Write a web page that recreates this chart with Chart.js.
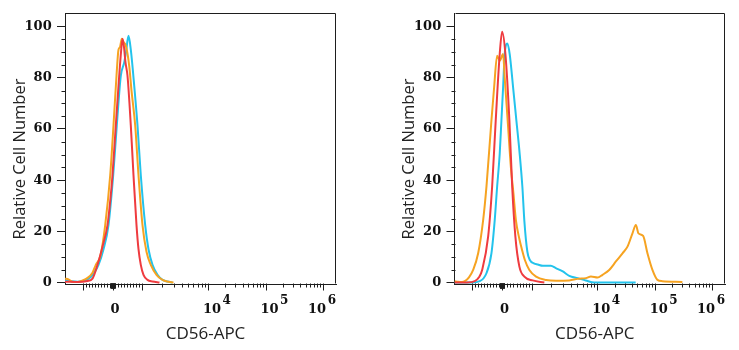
<!DOCTYPE html>
<html>
<head>
<meta charset="utf-8">
<script src="https://cdn.jsdelivr.net/npm/chart.js@4.4.1/dist/chart.umd.min.js"></script>
<style>
  html, body { margin: 0; padding: 0; background: #ffffff; }
  #wrap { position: relative; width: 739px; height: 350px; overflow: hidden; }
  #c1 { position: absolute; left: 0; top: 0; }
  #c2 { position: absolute; left: 370px; top: 0; }
</style>
</head>
<body>
<div id="wrap">
  <canvas id="c1" width="370" height="350"></canvas>
  <canvas id="c2" width="369" height="350"></canvas>
</div>
<script>
// ---- Data (x = position on the biexponential CD56-APC display axis, 0 = zero, in display units;
//      y = relative cell number) ----
const leftRedX    = [-47.5, -35, -25, -20, -15, -10, -5, -2, 0, 3.3, 6.7, 8.5, 10, 11.5, 13, 15, 18.3, 21, 24, 26, 28.3, 31, 35, 40, 47];
const leftRedY    = [0.3, 0.2, 0.6, 1.5, 6.9, 14, 22.4, 33, 41.9, 61.4, 80.8, 90, 95.3, 92, 86, 80.8, 61.4, 41.9, 22.4, 13, 6.9, 3, 1, 0.4, 0];
const leftOrangeX = [-47.5, -44, -40, -35, -30, -25.3, -20, -16.7, -12, -7.3, -2.3, 1, 4, 6, 7.5, 9.3, 11, 13.3, 16.7, 19, 22.7, 26, 30, 34, 38.3, 44, 50, 56, 61];
const leftOrangeY = [1.5, 1.2, 0.3, 0.2, 0.8, 1.7, 3.8, 6.9, 10.5, 22.4, 41.9, 61.4, 80.8, 91, 92, 95.3, 94, 92.6, 84.7, 75, 61.4, 41.9, 22.4, 12, 6.9, 3, 1, 0.3, 0];
const leftBlueX   = [-47.5, -42, -35, -28, -22, -18, -14, -9, -4, 0.7, 4.3, 8.3, 11.7, 13.5, 16, 18.3, 21.7, 25, 28.3, 32.7, 36, 40, 45, 50, 55, 60];
const leftBlueY   = [0.8, 0.5, 0.3, 0.8, 2, 4, 6.9, 13, 22.4, 41.9, 61.4, 80.8, 86, 90, 96.4, 91, 77, 61.4, 41.9, 22.4, 13, 6.9, 3, 1, 0.4, 0];

const rightRedX    = [-47.5, -35, -27.2, -23, -19.8, -13.8, -9.8, -6.2, -2.2, 0.2, 3.5, 7.5, 10.3, 13.5, 17.5, 22.5, 30.8, 42.5];
const rightRedY    = [0, 0, 0.5, 2, 4.9, 17.9, 37.4, 63.3, 89.3, 98, 89.3, 63.3, 37.4, 17.9, 6.2, 2.3, 0.8, 0];
const rightOrangeX = [-47.5, -44, -40, -37.2, -33, -28.8, -23.8, -18.8, -15.5, -10.5, -7.8, -4.8, -2.2, 1.2, 2.8, 6, 9, 11.5, 14, 17.5, 20, 23, 27.5, 34.2, 44.2, 54.2, 67.5, 75.8, 84.2, 89.2, 95.8, 100.8, 107.5, 114.2, 120.8, 125.8, 130.8, 134.2, 136.8, 141.5, 145.8, 150.8, 155.8, 160.8, 180.8];
const rightOrangeY = [0.5, 0.3, 0.2, 0.5, 2, 4.9, 11.4, 24.4, 37.4, 63.3, 76.3, 88.6, 86.7, 89.3, 80, 62, 45, 35, 24.4, 17, 13, 8.8, 4.9, 2.3, 1, 0.7, 0.8, 1.4, 1.7, 2.3, 1.9, 3, 4.9, 8.2, 11.4, 14, 19.2, 22.5, 19.2, 18.2, 11.4, 4.9, 1, 0.5, 0.2];
const rightBlueX   = [-47.5, -30, -22.2, -15.5, -10.5, -7.2, -4.8, -2.2, -0.5, 1.2, 2.8, 5.5, 7.8, 11.2, 14.5, 17.8, 20.5, 22.5, 25.5, 28, 32, 36, 41, 49, 54, 61, 67.5, 76, 84, 92.5, 134];
const rightBlueY   = [0, 0, 0.5, 3.6, 11.4, 24.4, 37.4, 50.3, 63.3, 76.3, 89.3, 93.4, 89.3, 76.3, 63.3, 50.3, 37.4, 24, 12, 8.8, 7.5, 7, 6.5, 6.5, 5.6, 4.3, 2.6, 1.7, 0.8, 0, 0];

// ---- Axis ticks and titles ----
const xTitle = 'CD56-APC';
const yTitle = 'Relative Cell Number';
const yTickValues  = [0, 20, 40, 60, 80, 100];
const yMinorValues = [5, 10, 15, 25, 30, 35, 45, 50, 55, 65, 70, 75, 85, 90, 95];
const xMajorValues = [-1000, 0, 1000, 1e4, 1e5, 1e6];
const xLabelBase   = ['', '0', '', '10', '10', '10'];
const xLabelExp    = ['', '', '', '4', '5', '6'];
const xMinorValues = [-900, -800, -700, -600, -500, -400, -300, -200, -100,
  -90, -80, -70, -60, -50, -40, -30, -20, -10, 10, 20, 30, 40, 50, 60, 70, 80, 90,
  100, 200, 300, 400, 500, 600, 700, 800, 900,
  2e3, 3e3, 4e3, 5e3, 6e3, 7e3, 8e3, 9e3,
  2e4, 3e4, 4e4, 5e4, 6e4, 7e4, 8e4, 9e4,
  2e5, 3e5, 4e5, 5e5, 6e5, 7e5, 8e5, 9e5];

const COLORS = { red: '#ef3b3f', orange: '#f6a321', blue: '#23c3ec' };

// biexponential-like display transform (fluorescence value -> display units)
const decadeStart = { 3: 29.8, 4: 95.5, 5: 153, 6: 210.3 };
function toDisplay(v) {
  const a = Math.abs(v), s = Math.sign(v);
  if (a <= 100) return v * 0.025;
  if (a <= 1000) return s * (2.5 + (a - 100) / 900 * 27.3);
  const e = Math.floor(Math.log10(a));
  const lo = decadeStart[e], hi = decadeStart[e + 1] !== undefined ? decadeStart[e + 1] : lo + 57.3;
  return s * (lo + (Math.log10(a) - e) * (hi - lo));
}

function pts(xs, ys) { return xs.map((x, i) => ({ x: x, y: ys[i] })); }

const axisDecor = {
  id: 'axisDecor',
  afterDraw(chart, args, opts) {
    const { ctx, chartArea: ca, scales: { x, y } } = chart;
    ctx.save();
    ctx.strokeStyle = '#1e1e1e';
    ctx.lineWidth = 1;
    const top = Math.round(ca.top) + 0.5, right = Math.round(ca.right) - 0.5;
    const bottom = Math.round(ca.bottom) - 0.5, left = Math.round(ca.left) + 0.5;
    ctx.beginPath();
    ctx.moveTo(left, top); ctx.lineTo(right, top); ctx.lineTo(right, bottom);
    ctx.stroke();
    // y minor ticks
    ctx.beginPath();
    yMinorValues.forEach(v => {
      const py = Math.round(y.getPixelForValue(v)) + 0.5;
      ctx.moveTo(left - 4, py); ctx.lineTo(left, py);
    });
    ctx.stroke();
    // x ticks
    ctx.beginPath();
    xMajorValues.forEach(v => {
      const px = Math.round(x.getPixelForValue(toDisplay(v))) + 0.5;
      ctx.moveTo(px, bottom); ctx.lineTo(px, bottom + 7);
    });
    xMinorValues.forEach(v => {
      const px = Math.round(x.getPixelForValue(toDisplay(v))) + 0.5;
      const len = Math.abs(v) < 100 ? 5 : 4;
      ctx.moveTo(px, bottom); ctx.lineTo(px, bottom + len);
    });
    ctx.stroke();
    // x tick labels
    ctx.fillStyle = '#111';
    ctx.textBaseline = 'alphabetic';
    const baseFont = 'bold 13px "DejaVu Serif"';
    const expFont = 'bold 12px "DejaVu Serif"';
    xMajorValues.forEach((v, i) => {
      if (!xLabelBase[i]) return;
      const px = x.getPixelForValue(toDisplay(v));
      ctx.font = baseFont;
      const wb = ctx.measureText(xLabelBase[i]).width;
      if (!xLabelExp[i]) {
        ctx.textAlign = 'center';
        ctx.fillText(xLabelBase[i], px + 2.5, 312.5);
        return;
      }
      ctx.font = expFont;
      const we = ctx.measureText(xLabelExp[i]).width;
      let start = px - 5;
      if (start + wb + 1.5 + we > ca.right) start = ca.right - (wb + 1.5 + we);
      ctx.textAlign = 'left';
      ctx.font = baseFont;
      ctx.fillText(xLabelBase[i], start, 312.5);
      ctx.font = expFont;
      ctx.fillText(xLabelExp[i], start + wb + 1.5, 303.5);
    });
    // axis titles
    ctx.fillStyle = '#222';
    ctx.font = '17px "Open Sans"';
    ctx.textAlign = 'center';
    ctx.textBaseline = 'alphabetic';
    ctx.fillText(xTitle, (ca.left + ca.right) / 2 + 5, 339);
    ctx.save();
    ctx.translate(opts.yTitleX, 159);
    ctx.rotate(-Math.PI / 2);
    ctx.font = '16.5px "Open Sans"';
    ctx.fillText(yTitle, 0, 0);
    ctx.restore();
    ctx.restore();
  }
};

function makeChart(id, sets, yAxisWidth, rightPad, yTitleX) {
  return new Chart(document.getElementById(id), {
    type: 'line',
    data: {
      datasets: [
        { data: pts(sets.redX, sets.redY), borderColor: COLORS.red },
        { data: pts(sets.orangeX, sets.orangeY), borderColor: COLORS.orange },
        { data: pts(sets.blueX, sets.blueY), borderColor: COLORS.blue }
      ].map(d => Object.assign(d, { borderWidth: 2, pointRadius: 0, fill: false, cubicInterpolationMode: 'monotone' }))
    },
    options: {
      responsive: false,
      animation: false,
      events: [],
      layout: { padding: { top: 12, right: rightPad, bottom: 0, left: 0 } },
      plugins: { legend: { display: false }, tooltip: { enabled: false }, axisDecor: { yTitleX: yTitleX } },
      scales: {
        x: {
          type: 'linear', min: -47.5, max: 223.5,
          grid: { display: false },
          border: { display: true, color: '#1e1e1e', width: 1 },
          ticks: { display: false },
          title: { display: false },
          afterFit(scale) { scale.height = 66; }
        },
        y: {
          type: 'linear', min: -0.6, max: 105.3,
          afterBuildTicks(scale) { scale.ticks = yTickValues.map(v => ({ value: v })); },
          grid: { display: true, drawOnChartArea: false, drawTicks: true, tickLength: 8, color: '#1e1e1e', tickColor: '#1e1e1e' },
          border: { display: true, color: '#1e1e1e', width: 1 },
          ticks: { color: '#111', padding: 5.3, font: { family: 'DejaVu Serif', size: 13, weight: 'bold' } },
          title: { display: false },
          afterFit(scale) { scale.width = yAxisWidth; }
        }
      }
    },
    plugins: [axisDecor]
  });
}

makeChart('c1', { redX: leftRedX, redY: leftRedY, orangeX: leftOrangeX, orangeY: leftOrangeY, blueX: leftBlueX, blueY: leftBlueY }, 65, 34, 25);
makeChart('c2', { redX: rightRedX, redY: rightRedY, orangeX: rightOrangeX, orangeY: rightOrangeY, blueX: rightBlueX, blueY: rightBlueY }, 84.5, 14, 43.5);
</script>
</body>
</html>
